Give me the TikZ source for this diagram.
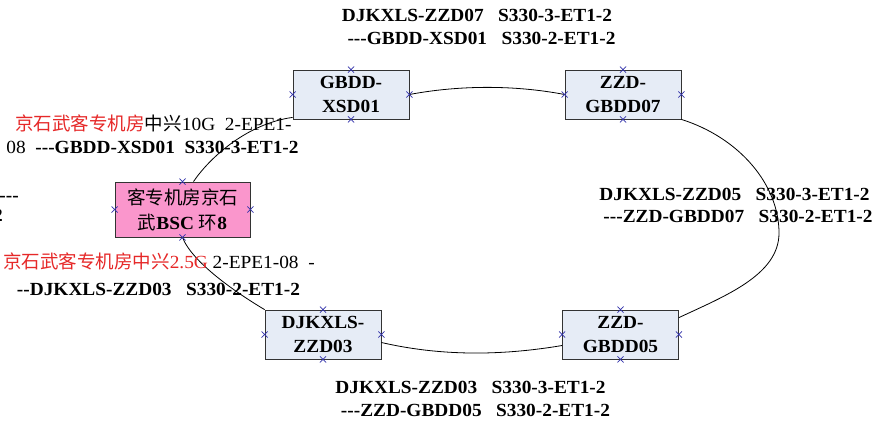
\documentclass[tikz,border=0pt]{standalone}
\usepackage{fontspec}
\setmainfont{Liberation Serif}[FakeStretch=1.045,Ligatures=TeXOff]
\newfontfamily\cjk{Noto Sans CJK SC}[FakeStretch=1.0]
\usetikzlibrary{shapes.misc}
\definecolor{boxfill}{RGB}{230,236,246}
\definecolor{pinkfill}{RGB}{250,150,204}
\definecolor{mkblue}{RGB}{50,50,170}
\definecolor{labred}{RGB}{230,40,40}
\begin{document}
\begin{tikzpicture}[x=1pt,y=-1pt,
  dev/.style={draw=black!80, line width=0.8pt, fill=boxfill, minimum width=116pt, minimum height=49pt, inner sep=0pt, align=center, font=\bfseries\fontsize{18.5}{24}\selectfont},
  bsc/.style={draw=black!80, line width=0.8pt, fill=pinkfill, minimum width=135pt, minimum height=55pt, inner sep=0pt, align=center, font=\fontsize{18.5}{25}\selectfont},
  lab/.style={anchor=base, inner sep=0pt, font=\fontsize{18.5}{22}\selectfont},
  wire/.style={draw=black, line width=0.8pt},
  xmk/.style={cross out, draw=mkblue, line width=0.6pt, minimum size=5.5pt, inner sep=0pt}]
\useasboundingbox (0,0) rectangle (877,423);
\fill[white] (0,0) rectangle (877,423);
% devices
\node[dev] (xsd) at (351,94.5) {GBDD-\\XSD01};
\node[dev] (g07) at (623,94.5) {ZZD-\\GBDD07};
\node[dev] (dj03) at (323,334.5) {DJKXLS-\\ZZD03};
\node[dev] (g05) at (620.5,334.5) {ZZD-\\GBDD05};
\node[bsc] (bsc) at (182.5,209.5) {{\cjk 客专机房京石}\\{\cjk 武}\textbf{BSC} {\cjk 环}\textbf{8}};
\coordinate (rpt) at (779,233);
% ring
\draw[wire] ([xshift=11pt]bsc.north) .. controls (208,160) and (245,124) .. ([yshift=2pt]xsd.south west);
\draw[wire] (xsd.east) .. controls (460,85) and (515,85) .. (g07.west);
\draw[wire] (g07.south east) .. controls (740,138) and (779,185) .. (rpt) .. controls (779,275) and (725,296) .. ([yshift=-8pt]g05.north east);
\draw[wire] ([yshift=-11pt]g05.west) .. controls (500,356) and (440,356) .. ([yshift=-8pt]dj03.east);
\draw[wire] (bsc.south) .. controls (192,262) and (235,292) .. (dj03.north west);
% connection points
\foreach \b in {xsd,g07,dj03,g05,bsc}
  \foreach \a/\s in {north/n,south/s,east/e,west/w}
    \node[xmk] (\b-\s) at (\b.\a) {};
% labels
\node[lab] (t1) at (477,21) {\textbf{DJKXLS-ZZD07\ \ \ S330-3-ET1-2}};
\node[lab] (t2) at (481.5,44.5) {\textbf{---GBDD-XSD01\ \ \ S330-2-ET1-2}};
\node[lab] (r1) at (734.5,200) {\textbf{DJKXLS-ZZD05\ \ \ S330-3-ET1-2}};
\node[lab] (r2) at (738,222.5) {\textbf{---ZZD-GBDD07\ \ \ S330-2-ET1-2}};
\node[lab] (b1) at (470.5,393) {\textbf{DJKXLS-ZZD03\ \ \ S330-3-ET1-2}};
\node[lab] (b2) at (475.5,416) {\textbf{---ZZD-GBDD05\ \ \ S330-2-ET1-2}};
\node[lab] (u1) at (153.5,130) {\textcolor{labred}{\cjk 京石武客专机房}{\cjk 中兴}10G\ \ 2-EPE1-};
\node[lab] (u2) at (152.5,153.5) {08\ \ \textbf{---GBDD-XSD01\ \ S330-3-ET1-2}};
\node[lab] (l1) at (159,268) {\textcolor{labred}{{\cjk 京石武客专机房中兴}2.5G} 2-EPE1-08\ \ -};
\node[lab] (l2) at (158.5,295.5) {\textbf{--DJKXLS-ZZD03\ \ \ S330-2-ET1-2}};
\node[lab,anchor=base east] (f1) at (19,201) {\textbf{---}};
\node[lab,anchor=base east] (f2) at (3,221) {\textbf{2}};
\end{tikzpicture}
\end{document}
